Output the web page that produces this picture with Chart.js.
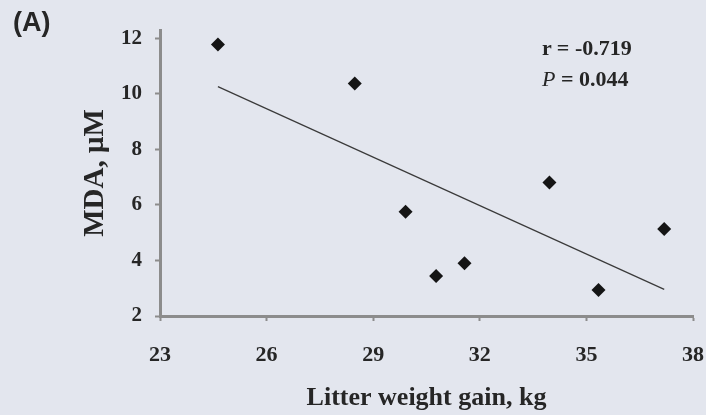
<!DOCTYPE html>
<html>
<head>
<meta charset="utf-8">
<script src="https://cdn.jsdelivr.net/npm/chart.js@4"></script>
<style>
  html, body { margin: 0; padding: 0; background: #e3e6ee; }
  #wrap { position: relative; width: 706px; height: 415px; }
  #c { position: absolute; left: 0; top: 0; }
  .lbl { position: absolute; color: #262626; white-space: nowrap; }
  #panel { left: 13px; top: 7px; font: bold 27px "Liberation Sans", Arial, sans-serif; }
  #stat1 { left: 542px; top: 35px; font: bold 22px "Liberation Serif", "Times New Roman", serif; }
  #stat2 { left: 542px; top: 66px; font: bold 22px "Liberation Serif", "Times New Roman", serif; }
  #stat2 i { font-weight: normal; }
</style>
</head>
<body>
<div id="wrap">
  <canvas id="c" width="706" height="415"></canvas>
  <div class="lbl" id="panel">(A)</div>
  <div class="lbl" id="stat1">r = -0.719</div>
  <div class="lbl" id="stat2"><i>P</i> = 0.044</div>
</div>
<script>
// DONNEES
var litterGain = [24.63, 28.48, 29.91, 30.77, 31.57, 33.96, 35.34, 37.19];
var mda = [11.78, 10.37, 5.75, 3.44, 3.90, 6.81, 2.94, 5.13];

// droite de tendance (extremites lues)
var trendX = [24.63, 37.19];
var trendY = [10.26, 2.96];

var xTicks = [23, 26, 29, 32, 35, 38];
var yTicks = [2, 4, 6, 8, 10, 12];

var points = [];
for (var i = 0; i < litterGain.length; i++) {
    points.push({ x: litterGain[i], y: mda[i] });
}
var trend = [];
for (var i = 0; i < trendX.length; i++) {
    trend.push({ x: trendX[i], y: trendY[i] });
}

var axisGrey = '#8c8c8c';
var textCol = '#262626';
var serif = '"Liberation Serif", "Times New Roman", serif';

new Chart(document.getElementById('c'), {
    type: 'scatter',
    data: {
        datasets: [{
            label: 'MDA',
            data: points,
            pointStyle: 'rectRot',
            pointRadius: 7,
            pointHoverRadius: 7,
            backgroundColor: '#151515',
            borderColor: '#151515',
            borderWidth: 0
        }, {
            label: 'Trend',
            type: 'line',
            data: trend,
            showLine: true,
            pointRadius: 0,
            borderColor: '#3a3a3a',
            borderWidth: 1.2,
            fill: false
        }]
    },
    options: {
        responsive: false,
        animation: false,
        layout: { padding: { left: 0, right: 13, top: 30, bottom: 0 } },
        plugins: {
            legend: { display: false },
            tooltip: { enabled: false }
        },
        scales: {
            x: {
                type: 'linear',
                min: 23,
                max: 38,
                afterBuildTicks: function(scale) {
                    scale.ticks = xTicks.map(function(v) { return { value: v }; });
                },
                afterFit: function(scale) {
                    scale.height = 99;
                    scale.paddingLeft = 0;
                    scale.paddingRight = 0;
                },
                border: { color: axisGrey, width: 3 },
                grid: { drawOnChartArea: false, color: axisGrey, tickLength: 5, tickWidth: 2 },
                ticks: {
                    color: textCol,
                    padding: 21,
                    font: { family: serif, size: 22, weight: 'bold' }
                },
                title: {
                    display: true,
                    text: 'Litter weight gain, kg',
                    color: textCol,
                    padding: { top: 0, bottom: 1 },
                    font: { family: serif, size: 26, weight: 'bold' }
                }
            },
            y: {
                min: 2,
                max: 12.3,
                afterBuildTicks: function(scale) {
                    scale.ticks = yTicks.map(function(v) { return { value: v }; });
                },
                afterFit: function(scale) {
                    scale.width = 160;
                    scale.paddingTop = 0;
                    scale.paddingBottom = 0;
                },
                border: { color: axisGrey, width: 3 },
                grid: { drawOnChartArea: false, color: axisGrey, tickLength: 5, tickWidth: 2 },
                ticks: {
                    color: textCol,
                    padding: 13,
                    font: { family: serif, size: 21, weight: 'bold' }
                },
                title: {
                    display: true,
                    text: 'MDA, μM',
                    color: textCol,
                    padding: { top: 78, bottom: 0 },
                    font: { family: serif, size: 29, weight: 'bold' }
                }
            }
        }
    }
});
</script>
</body>
</html>
